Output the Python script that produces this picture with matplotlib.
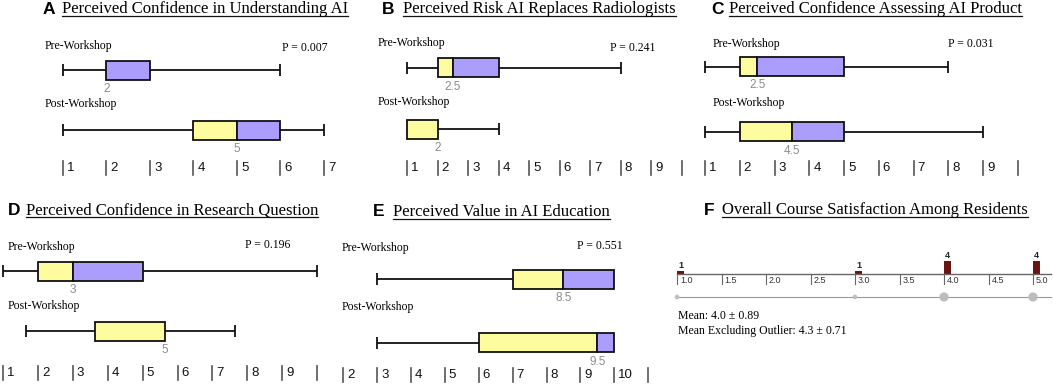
import matplotlib.pyplot as plt
from matplotlib.lines import Line2D

# panel data (box stats = min, q1, median, q3, max)
letters = ['A', 'B', 'C', 'D', 'E']
titles = ['Perceived Confidence in Understanding AI',
          'Perceived Risk AI Replaces Radiologists',
          'Perceived Confidence Assessing AI Product',
          'Perceived Confidence in Research Question',
          'Perceived Value in AI Education']
p_values = ['P = 0.007', 'P = 0.241', 'P = 0.031', 'P = 0.196', 'P = 0.551']
pre_stats = [[1, 2, 2, 3, 6],
             [1, 2, 2.5, 4, 8],
             [1, 2, 2.5, 5, 8],
             [1, 2, 3, 5, 10],
             [3, 7, 8.5, 10, 10]]
post_stats = [[1, 4, 5, 6, 7],
              [1, 1, 2, 2, 4],
              [1, 2, 3.5, 5, 9],
              [1.65, 3.65, 5.65, 5.65, 7.65],
              [3, 6, 9.5, 10, 10]]
pre_median_labels = ['2', '2.5', '2.5', '3', '8.5']
post_median_labels = ['5', '2', '4.5', '5', '9.5']
tick_values = [list(range(1, 8)), list(range(1, 11)), list(range(1, 11)),
               list(range(1, 11)), list(range(2, 12))]
tick_labels = [[str(v) for v in tv] for tv in tick_values]
for tl in tick_labels[1:]:
    tl[-1] = ''

# panel F
f_title = 'Overall Course Satisfaction Among Residents'
f_values = [1.0, 3.0, 4.0, 5.0]
f_counts = [1, 1, 4, 4]
f_ticks = [1.0, 1.5, 2.0, 2.5, 3.0, 3.5, 4.0, 4.5, 5.0]
f_mean = 'Mean: 4.0 \u00b1 0.89'
f_mean_excl = 'Mean Excluding Outlier: 4.3 \u00b1 0.71'

W, H = 1053, 386
YELLOW = '#fdfda0'
PURPLE = '#ab9dfb'
SERIF = 'Liberation Serif'
SANS = 'Liberation Sans'

fig = plt.figure(figsize=(W / 100, H / 100), dpi=100)


def ftext(px, py, s, **kw):
    return fig.text(px / W, 1 - py / H, s, **kw)


def make_ax(left, right, top, bottom, v_ref, px_ref, unit):
    ax = fig.add_axes([left / W, 1 - bottom / H, (right - left) / W, (bottom - top) / H])
    ax.set_xlim(v_ref + (left - px_ref) / unit, v_ref + (right - px_ref) / unit)
    ax.set_ylim(bottom, top)
    ax.axis('off')
    ax.patch.set_visible(False)
    return ax


def draw_box(ax, stats, yc, label, unit):
    lo, q1, med, q3, hi = stats
    bh = 19
    cap = 6
    kw = dict(color='#111111', lw=1.3, solid_capstyle='butt')
    if lo < q1:
        ax.plot([lo, q1], [yc, yc], **kw)
        ax.plot([lo, lo], [yc - cap, yc + cap], **kw)
    if hi > q3:
        ax.plot([q3, hi], [yc, yc], **kw)
        ax.plot([hi, hi], [yc - cap, yc + cap], **kw)
    if med > q1:
        ax.barh(yc, med - q1, left=q1, height=bh, color=YELLOW, edgecolor='#111111', lw=1.3)
    if q3 > med:
        ax.barh(yc, q3 - med, left=med, height=bh, color=PURPLE, edgecolor='#111111', lw=1.3)
    ax.text(med, yc + 19, label, ha='center', va='center', color='#8c8c8c',
            fontsize=8.5, family=SANS)


# layout of the five box panels
panel_rect = [(0, 355, 0, 190), (355, 690, 0, 190), (690, 1053, 0, 190),
              (0, 338, 190, 386), (338, 690, 190, 386)]
panel_scale = [(1, 63, 43.5), (1, 407, 30.5), (1, 705, 34.75), (1, 3, 34.9), (3, 377, 33.9)]
letter_xy = [(43, 9), (382, 9), (711, 9), (8, 210), (373, 212)]
title_x = [62, 403, 729, 26, 393]
label_x = [45, 378, 713, 8, 342]
pre_label_y = [46, 43, 44, 247, 248]
post_label_y = [104, 102, 103, 306, 307]
pre_box_y = [70, 67.5, 66.5, 271.5, 279.5]
post_box_y = [130, 129, 131.5, 331.5, 343]
tick_y = [168, 168, 168, 373, 375]
p_xy = [(328, 48), (655, 48), (993, 44), (290, 245), (623, 246)]

title_texts = []
for i in range(5):
    l, r, t, b = panel_rect[i]
    vref, pref, unit = panel_scale[i]
    ax = make_ax(l, r, t, b, vref, pref, unit)
    ftext(letter_xy[i][0], letter_xy[i][1], letters[i], fontsize=12.5, fontweight='bold',
          family=SANS, va='center')
    title_texts.append(ftext(title_x[i], letter_xy[i][1], titles[i], fontsize=12,
                             family=SERIF, va='center'))
    ftext(label_x[i], pre_label_y[i], 'Pre-Workshop', fontsize=8.5, family=SERIF, va='center')
    ftext(label_x[i], post_label_y[i], 'Post-Workshop', fontsize=8.5, family=SERIF, va='center')
    ftext(p_xy[i][0], p_xy[i][1], p_values[i], fontsize=8.5, family=SERIF, va='center', ha='right')
    draw_box(ax, pre_stats[i], pre_box_y[i], pre_median_labels[i], unit)
    draw_box(ax, post_stats[i], post_box_y[i], post_median_labels[i], unit)
    ty = tick_y[i]
    for v, lab in zip(tick_values[i], tick_labels[i]):
        ax.plot([v, v], [ty - 7, ty + 7], color='#555555', lw=1.2)
        ax.text(v + 4 / unit, ty, lab, va='center', ha='left', fontsize=9.5, family=SANS,
                color='#111111')

# panel F
axf = make_ax(660, 1053, 190, 386, 1.0, 677, 89)
ftext(704, 210, 'F', fontsize=12.5, fontweight='bold', family=SANS, va='center')
title_texts.append(ftext(722, 210, f_title, fontsize=12, family=SERIF, va='center'))
x_end = axf.get_xlim()[1] - 2 / 89
base = 274
axf.plot([f_ticks[0], x_end], [base, base], color='#666666', lw=1)
for v in f_ticks:
    axf.plot([v, v], [base, base + 10], color='#666666', lw=0.8)
    axf.text(v + 3 / 89, base + 7, f'{v:.1f}', va='center', ha='left', fontsize=6.5,
             family=SANS, color='#333333')
px_per_count = 3.3
axf.bar(f_values, [-c * px_per_count for c in f_counts], bottom=base, width=7 / 89,
        align='edge', color='#6b1414')
for v, c in zip(f_values, f_counts):
    axf.text(v + 3.5 / 89, base - c * px_per_count - 5, str(c), ha='center', va='center',
             fontsize=6.5, fontweight='bold', family=SANS, color='#222222')
axf.plot([f_ticks[0], x_end], [297, 297], color='#999999', lw=0.8)
axf.scatter(f_values, [297] * len(f_values), s=[c * 11 for c in f_counts],
            color='#bdbdbd', zorder=3, linewidths=0)
ftext(678, 316, f_mean, fontsize=8.5, family=SERIF, va='center')
ftext(678, 331, f_mean_excl, fontsize=8.5, family=SERIF, va='center')

# underline titles
renderer = fig.canvas.get_renderer()
for t in title_texts:
    bb = t.get_window_extent(renderer)
    y = bb.y0 + 1
    fig.add_artist(Line2D([bb.x0 / W, bb.x1 / W], [y / H, y / H], color='#111111', lw=0.9))

fig.savefig('out.png', dpi=100)
